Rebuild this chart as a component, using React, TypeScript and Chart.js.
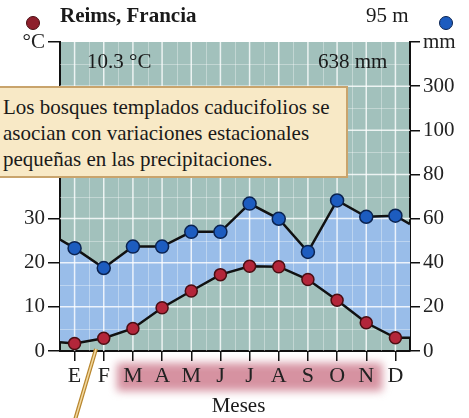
import React, { useEffect, useRef } from 'react';
import { Chart, registerables } from 'chart.js';

Chart.register(...registerables);

// ---- data ----
const months = ['E', 'F', 'M', 'A', 'M', 'J', 'J', 'A', 'S', 'O', 'N', 'D'];
const tempC = [1.7, 2.9, 5.1, 9.8, 13.6, 17.3, 19.2, 19.1, 16.2, 11.5, 6.4, 3.0];
const precipMm = [46.6, 37.6, 47.3, 47.3, 54.0, 54.0, 66.8, 59.9, 44.9, 68.2, 60.8, 61.3];
// where the lines meet the plot edges (left, right)
const tempEdges = [2.0, 3.0];
const precipEdges = [50.5, 57.5];
// axis ticks (right axis above 100 mm is compressed: 120 -> 300 mm)
const tempTicks = [0, 10, 20, 30, 70];
const tempTickLabels: Record<number, string> = { 70: '°C' };
const precipTicks = [0, 20, 40, 60, 80, 100, 120, 140];
const precipTickLabels: Record<number, string> = { 120: '300', 140: 'mm' };
const highlightFrom = 3; // M
const highlightTo = 11; // N

const SERIF = '"Liberation Serif", "DejaVu Serif", serif';

const withEdges = (vals: number[], edges: number[]) => [
  { x: 0.5, y: edges[0] },
  ...vals.map((v, i) => ({ x: i + 1, y: v })),
  { x: 12.5, y: edges[1] },
];

export default function App() {
  const ref = useRef<HTMLCanvasElement | null>(null);

  useEffect(() => {
    if (!ref.current) return;
    const bgPlugin = {
      id: 'bgPlugin',
      beforeDraw(chart: any) {
        const { ctx, chartArea: a, scales } = chart;
        ctx.save();
        // pink highlight behind month labels
        const x1 = scales.x.getPixelForValue(highlightFrom) - 16;
        const x2 = scales.x.getPixelForValue(highlightTo) + 16;
        ctx.filter = 'blur(4px)';
        ctx.fillStyle = 'rgba(200,110,130,0.75)';
        ctx.fillRect(x1, a.bottom + 12, x2 - x1, 28);
        ctx.filter = 'none';
        // plot background
        ctx.fillStyle = '#a2c1bc';
        ctx.fillRect(a.left, a.top, a.right - a.left, a.bottom - a.top);
        ctx.restore();
      },
      beforeDatasetsDraw(chart: any) {
        const { ctx, chartArea: a, scales } = chart;
        ctx.save();
        // minor grid
        ctx.strokeStyle = 'rgba(255,255,255,0.35)';
        ctx.lineWidth = 1;
        for (let m = 1.5; m < 12.5; m += 1) {
          const x = Math.round(scales.x.getPixelForValue(m)) + 0.5;
          ctx.beginPath(); ctx.moveTo(x, a.top); ctx.lineTo(x, a.bottom); ctx.stroke();
        }
        for (let t = 5; t < 70; t += 10) {
          const y = Math.round(scales.y.getPixelForValue(t)) + 0.5;
          ctx.beginPath(); ctx.moveTo(a.left, y); ctx.lineTo(a.right, y); ctx.stroke();
        }
        // major grid
        ctx.strokeStyle = 'rgba(255,255,255,0.8)';
        ctx.lineWidth = 1.5;
        for (let m = 1; m <= 12; m++) {
          const x = scales.x.getPixelForValue(m);
          ctx.beginPath(); ctx.moveTo(x, a.top); ctx.lineTo(x, a.bottom); ctx.stroke();
        }
        for (let t = 10; t < 70; t += 10) {
          const y = scales.y.getPixelForValue(t);
          ctx.beginPath(); ctx.moveTo(a.left, y); ctx.lineTo(a.right, y); ctx.stroke();
        }
        ctx.restore();
      },
    };

    const chart = new Chart(ref.current, {
      type: 'line',
      data: {
        datasets: [
          {
            label: 'Precipitación (mm)',
            data: withEdges(precipMm, precipEdges),
            yAxisID: 'y2',
            borderColor: '#111',
            borderWidth: 2.5,
            backgroundColor: '#99bde9',
            fill: { target: 1 },
            pointBackgroundColor: '#1d5cbf',
            pointBorderColor: '#0b2350',
            pointBorderWidth: 1.5,
            pointRadius: (c: any) => (c.dataIndex === 0 || c.dataIndex === 13 ? 0 : 6.5),
            tension: 0,
          },
          {
            label: 'Temperatura (°C)',
            data: withEdges(tempC, tempEdges),
            yAxisID: 'y',
            borderColor: '#111',
            borderWidth: 2.5,
            fill: false,
            pointBackgroundColor: '#b3263a',
            pointBorderColor: '#4a0d12',
            pointBorderWidth: 1.5,
            pointRadius: (c: any) => (c.dataIndex === 0 || c.dataIndex === 13 ? 0 : 6),
            tension: 0,
          },
        ],
      } as any,
      options: {
        animation: false,
        responsive: false,
        devicePixelRatio: 1,
        layout: { padding: { top: 42, left: 0, right: 0, bottom: 0 } },
        plugins: {
          legend: { display: false },
          tooltip: { enabled: false },
          filler: { drawTime: 'beforeDatasetsDraw' },
        },
        scales: {
          x: {
            type: 'linear',
            min: 0.5,
            max: 12.5,
            afterBuildTicks: (s: any) => { s.ticks = months.map((_, i) => ({ value: i + 1 })); },
            afterFit: (s: any) => { s.height = 67; },
            ticks: {
              autoSkip: false,
              maxRotation: 0,
              padding: 2,
              color: '#222',
              font: { family: SERIF, size: 22 },
              callback: (v: any) => months[Math.round(v) - 1] ?? '',
            },
            grid: { drawOnChartArea: false, drawTicks: true, tickLength: 10, color: '#111', lineWidth: 1.5 },
            border: { display: true, color: '#111', width: 2 },
          },
          y: {
            type: 'linear',
            position: 'left',
            min: 0,
            max: 70,
            afterBuildTicks: (s: any) => { s.ticks = tempTicks.map((v) => ({ value: v })); },
            afterFit: (s: any) => { s.width = 60; },
            ticks: {
              padding: 3,
              color: '#222',
              font: { family: SERIF, size: 21 },
              callback: (v: any) => tempTickLabels[v] ?? String(v),
            },
            grid: { drawOnChartArea: false, drawTicks: true, tickLength: 12, color: '#111', lineWidth: 1.5 },
            border: { display: true, color: '#111', width: 2 },
          },
          y2: {
            type: 'linear',
            position: 'right',
            min: 0,
            max: 140,
            afterBuildTicks: (s: any) => { s.ticks = precipTicks.map((v) => ({ value: v })); },
            afterFit: (s: any) => { s.width = 59; },
            ticks: {
              padding: 3,
              color: '#222',
              font: { family: SERIF, size: 21 },
              callback: (v: any) => precipTickLabels[v] ?? String(v),
            },
            grid: { drawOnChartArea: false, drawTicks: true, tickLength: 10, color: '#111', lineWidth: 1.5 },
            border: { display: true, color: '#111', width: 2 },
          },
        },
      } as any,
      plugins: [bgPlugin],
    });
    return () => chart.destroy();
  }, []);

  const txt = (style: React.CSSProperties): React.CSSProperties => ({
    position: 'absolute',
    fontFamily: SERIF,
    color: '#1a1a1a',
    whiteSpace: 'nowrap',
    lineHeight: 1,
    ...style,
  });

  return (
    <div style={{ position: 'absolute', left: 0, top: 0, width: 469, height: 418, overflow: 'hidden', background: '#fff' }}>
      <canvas ref={ref} width={469} height={418} style={{ position: 'absolute', left: 0, top: 0, display: 'block' }} />
      {/* header */}
      <div style={{ position: 'absolute', left: 26, top: 16, width: 12, height: 12, borderRadius: '50%', background: '#8e1f2c', border: '1px solid #4a0d12' }} />
      <div style={{ position: 'absolute', left: 439, top: 16, width: 12, height: 12, borderRadius: '50%', background: '#1d5cbf', border: '1px solid #0b2350' }} />
      <div style={txt({ left: 60, top: 5, fontSize: 21, fontWeight: 'bold' })}>Reims, Francia</div>
      <div style={txt({ left: 366, top: 5, fontSize: 21 })}>95 m</div>
      <div style={txt({ left: 87, top: 51, fontSize: 21 })}>10.3 °C</div>
      <div style={txt({ left: 318, top: 51, fontSize: 21 })}>638 mm</div>
      {/* annotation */}
      <div
        style={{
          position: 'absolute',
          left: -4,
          top: 86,
          width: 343,
          height: 82,
          background: '#f8e9c6',
          border: '2px solid #c9a46c',
          fontFamily: SERIF,
          fontSize: 21,
          lineHeight: '26px',
          color: '#1a1a1a',
          padding: '6px 0 0 5px',
          boxSizing: 'content-box',
          whiteSpace: 'nowrap',
          overflow: 'hidden',
        }}
      >
        Los bosques templados caducifolios se
        <br />
        asocian con variaciones estacionales
        <br />
        pequeñas en las precipitaciones.
      </div>
      {/* leader line */}
      <svg width={469} height={418} style={{ position: 'absolute', left: 0, top: 0, pointerEvents: 'none' }}>
        <line x1={96} y1={349} x2={75} y2={420} stroke="#b8862e" strokeWidth={4} />
        <line x1={96} y1={349} x2={75} y2={420} stroke="#f3d9a0" strokeWidth={1.5} />
      </svg>
      <div style={txt({ left: 0, width: 469, top: 395, fontSize: 21, textAlign: 'center', paddingLeft: 4 })}>Meses</div>
    </div>
  );
}
